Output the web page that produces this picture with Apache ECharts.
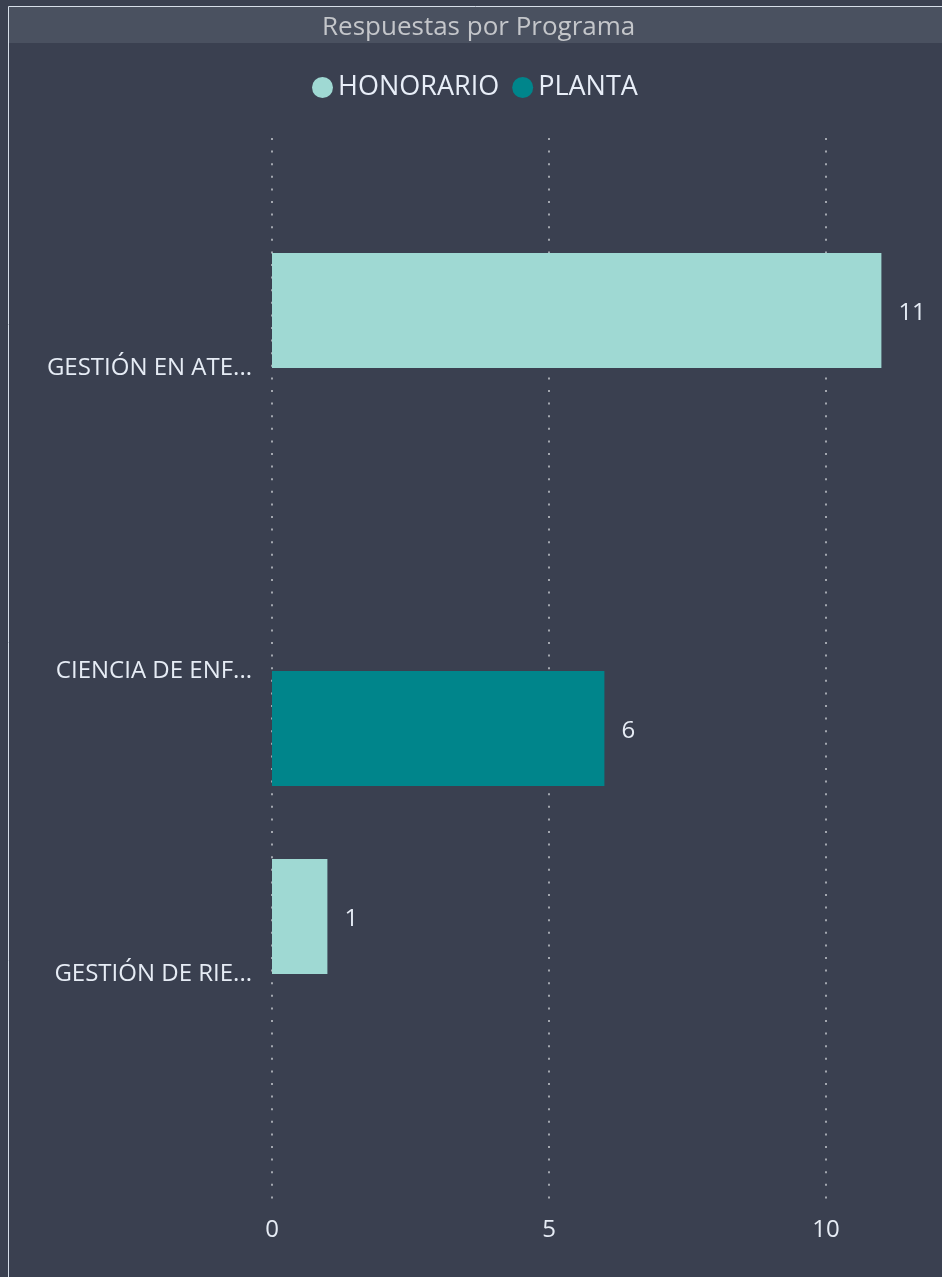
<!DOCTYPE html>
<html>
<head>
<meta charset="utf-8">
<title>Respuestas por Programa</title>
<script src="https://cdn.jsdelivr.net/npm/echarts@6/dist/echarts.min.js"></script>
<style>
  html, body { margin: 0; padding: 0; background: #3a4050; }
  #main { width: 942px; height: 1277px; }
</style>
</head>
<body>
<div id="main"></div>
<script>
// datos
var categories = ['GESTIÓN EN ATE...', 'CIENCIA DE ENF...', 'GESTIÓN DE RIE...'];
var honorario = [11, null, 1];
var planta = [null, 6, null];
var seriesNames = ['HONORARIO', 'PLANTA'];
var xMin = 0;
var xMax = 12;
var xInterval = 5;

var font = '"Open Sans", "Noto Sans", sans-serif';
var textColor = '#e6ecf5';

var chart = echarts.init(document.getElementById('main'));

chart.setOption({
  backgroundColor: '#3a4050',
  textStyle: { fontFamily: font },
  graphic: [
    { type: 'rect', shape: { x: 9, y: 7, width: 933, height: 36 }, style: { fill: '#4a5160' }, z: 0 },
    { type: 'rect', shape: { x: 8.5, y: 6.5, width: 1000, height: 2000 }, style: { fill: null, stroke: '#d6dee9', lineWidth: 1 }, z: 1 }
  ],
  title: {
    text: 'Respuestas por Programa',
    left: 322,
    top: 14,
    padding: 0,
    textStyle: { color: '#c4c6ca', fontSize: 26, fontWeight: 'normal', fontFamily: font, lineHeight: 28 }
  },
  legend: {
    data: seriesNames,
    left: 312,
    top: 74,
    padding: 0,
    icon: 'circle',
    itemWidth: 21,
    itemHeight: 21,
    itemGap: 13,
    textStyle: { color: '#e8eef8', fontSize: 27, fontFamily: font }
  },
  grid: [
    // rejilla de ejes (lineas punteadas y etiquetas)
    { left: 272, right: 5.2, top: 138, height: 1066, outerBoundsMode: 'none' },
    // rejilla de barras
    { left: 272, right: 5.2, top: 216.5, height: 909, outerBoundsMode: 'none' }
  ],
  xAxis: [
    {
      type: 'value', gridIndex: 0, min: xMin, max: xMax, interval: xInterval,
      axisLine: { show: false }, axisTick: { show: false },
      axisLabel: { color: textColor, fontSize: 24, margin: 14, showMaxLabel: false, fontFamily: font },
      splitLine: { show: true, showMaxLine: false, lineStyle: { color: '#a3a7af', width: 2, type: [2, 10.6] } }
    },
    {
      type: 'value', gridIndex: 1, min: xMin, max: xMax, interval: xInterval,
      show: false, splitLine: { show: false }
    }
  ],
  yAxis: [
    { type: 'value', gridIndex: 0, show: false, splitLine: { show: false } },
    {
      type: 'category', gridIndex: 1, data: categories, inverse: true,
      axisLine: { show: false }, axisTick: { show: false },
      axisLabel: { color: textColor, fontSize: 24, margin: 20, fontFamily: font, padding: [10, 0, 0, 0] }
    }
  ],
  series: [
    {
      name: seriesNames[0], type: 'bar', xAxisIndex: 1, yAxisIndex: 1,
      data: honorario, barWidth: 115, barGap: '0%',
      itemStyle: { color: '#9fd9d3' },
      label: { show: true, position: 'right', distance: 17, offset: [0, 3], color: textColor, fontSize: 24, fontFamily: font }
    },
    {
      name: seriesNames[1], type: 'bar', xAxisIndex: 1, yAxisIndex: 1,
      data: planta, barWidth: 115, barGap: '0%',
      itemStyle: { color: '#00858b' },
      label: { show: true, position: 'right', distance: 17, offset: [0, 3], color: textColor, fontSize: 24, fontFamily: font }
    }
  ]
});
</script>
</body>
</html>
